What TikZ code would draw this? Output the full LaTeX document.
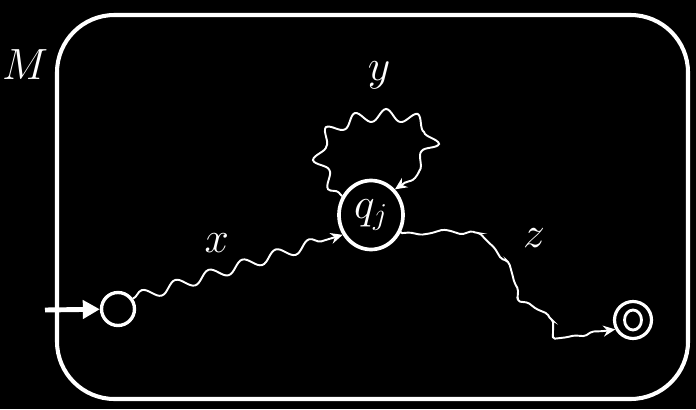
\documentclass[tikz,border=0pt]{standalone}
\usepackage{amsmath}
\usepackage{xcolor}
\usepackage{tikz}
\usetikzlibrary{arrows.meta,shapes.geometric,decorations.pathmorphing}
\definecolor{cfondo}{HTML}{000000}
\definecolor{cblanco}{HTML}{FFFFFF}
\tikzset{
  estado/.style={circle, draw=cblanco, line width=1.9pt, inner sep=0pt,
    minimum size=0.66cm},
  estadoq/.style={ellipse, draw=cblanco, line width=2.1pt, inner sep=0pt,
    minimum width=1.28cm, minimum height=1.38cm, text=cblanco,
    font=\fontsize{26}{30}\selectfont},
  final/.style={circle, draw=cblanco, line width=1.8pt, inner sep=0pt,
    minimum size=0.74cm,
    path picture={\draw[cblanco, line width=1.6pt]
      (path picture bounding box.center) ellipse (0.17cm and 0.2cm);}},
  marco/.style={draw=cblanco, line width=2.3pt, rounded corners=1.15cm},
  entrada/.style={-{Triangle[length=3.4mm,width=3.6mm]}, line width=2.8pt, draw=cblanco},
  onda/.style={-{Stealth[length=2.4mm,width=2.2mm]}, line width=1.1pt, draw=cblanco,
    decorate, decoration={snake, amplitude=1.1mm, segment length=7mm,
      post length=2.5mm}},
  ondar/.style={-{Stealth[length=2.4mm,width=2.2mm]}, line width=1.1pt, draw=cblanco,
    rounded corners=1pt, decorate,
    decoration={random steps, segment length=2mm, amplitude=0.7mm,
      post length=2.5mm}},
  ondal/.style={-{Stealth[length=2.4mm,width=2.2mm]}, line width=1.1pt, draw=cblanco,
    decorate, decoration={snake, amplitude=1.2mm, segment length=6mm,
      pre length=1mm, post length=2.5mm}},
  etq/.style={text=cblanco, font=\fontsize{24}{28}\selectfont},
}

\begin{document}
\begin{tikzpicture}[x=0.02cm, y=-0.02cm]
  \pgfmathsetseed{7}
  \fill[cfondo] (0,0) rectangle (696,409);
  \useasboundingbox (0,0) rectangle (696,409);
  \draw[marco] (57,15) rectangle (688,399);
  \node[etq] (m) at (25,65) {$M$};

  \node[estado] (ini) at (118,309) {};
  \node[estadoq] (qj) at (371,215) {$q_j$};
  \node[final] (fin) at (633,320) {};
  \coordinate (in) at (45,310);

  \draw[entrada] (in) -- (ini);
  \draw[onda] (ini.35) -- (qj.215) node[etq, pos=0.4, above=8pt] (lx) {$x$};
  \draw[ondal] (qj.147) .. controls (250,97) and (540,97) .. (qj.47);
  \draw[ondar] (qj.-32) -- (478,233) -- (508,262) -- (518,300) -- (552,320)
    -- (553,338) -- (fin.208);

  \node[etq] (ly) at (379,75) {$y$};
  \node[etq] (lz) at (534,238) {$z$};
\end{tikzpicture}
\end{document}
